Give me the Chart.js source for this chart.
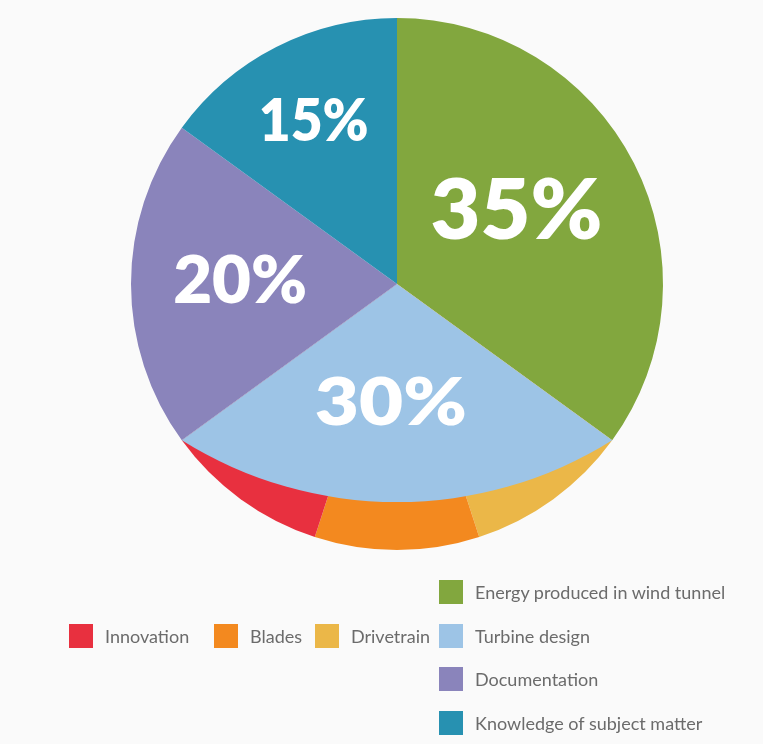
<!DOCTYPE html>
<html>
<head>
<meta charset="utf-8">
<script src="https://cdn.jsdelivr.net/npm/chart.js@4.4.0/dist/chart.umd.min.js"></script>
<style>
html,body{margin:0;padding:0;background:#fafafa;}
#wrap{position:relative;width:763px;height:744px;overflow:hidden;}
#c{position:absolute;left:0;top:0;}
.lg{position:absolute;display:flex;align-items:center;font-family:Lato,"Noto Sans",sans-serif;font-size:18px;color:#6b6b6b;white-space:nowrap;height:24px;}
.sw{width:24px;height:24px;margin-right:12px;flex:none;}
</style>
</head>
<body>
<div id="wrap"><canvas id="c" width="763" height="744"></canvas></div>
<script>
// ---- data ----
const mainLabels = ['Energy produced in wind tunnel', 'Turbine design', 'Documentation', 'Knowledge of subject matter'];
const mainValues = [35, 30, 20, 15];
const turbineIndex = 1;                       // main category split into sub parts
const subLabels = ['Drivetrain', 'Blades', 'Innovation'];   // clockwise order
const subValues = [10, 10, 10];

// ---- styles ----
const mainColors = ['#82a73e', '#9dc4e6', '#8a84bb', '#2791b1'];
const subColors = ['#ebb748', '#f3891f', '#e8303f'];
const lensDepth = 0.82;
const labelStyle = [
  {size: 84, w: 172, r: 0.53, da: -5},
  {size: 67, w: 152, r: 0.44, da: 3},
  {size: 66, w: 134, r: 0.59, da: 1.8},
  {size: 58, w: 110, r: 0.69, da: 0}
];

// build pie slices (turbine design replaced by its parts)
const pieValues = [], pieColors = [], ranges = [];
mainLabels.forEach((l, i) => {
  if (i === turbineIndex) {
    ranges.push([pieValues.length, pieValues.length + subValues.length - 1]);
    subValues.forEach((v, j) => { pieValues.push(v); pieColors.push(subColors[j]); });
  } else {
    ranges.push([pieValues.length, pieValues.length]);
    pieValues.push(mainValues[i]); pieColors.push(mainColors[i]);
  }
});

const lensPlugin = {
  id: 'lens',
  afterDatasetsDraw(chart) {
    const ctx = chart.ctx;
    const arcs = chart.getDatasetMeta(0).data;
    const [s, e] = ranges[turbineIndex];
    const first = arcs[s], last = arcs[e];
    const O = {x: first.x, y: first.y};
    const R = first.outerRadius;
    const a1 = first.startAngle, a2 = last.endAngle;
    const m = (a1 + a2) / 2, d = (a2 - a1) / 2, k = lensDepth;
    const t = R * (1 - k * k) / (2 * (Math.cos(d) - k));
    const cx = O.x + t * Math.cos(m), cy = O.y + t * Math.sin(m);
    const r = k * R - t;
    const p1 = {x: O.x + R * Math.cos(a1), y: O.y + R * Math.sin(a1)};
    const p2 = {x: O.x + R * Math.cos(a2), y: O.y + R * Math.sin(a2)};
    const b1 = Math.atan2(p1.y - cy, p1.x - cx), b2 = Math.atan2(p2.y - cy, p2.x - cx);
    ctx.save();
    ctx.beginPath();
    ctx.moveTo(O.x, O.y);
    ctx.lineTo(p1.x, p1.y);
    ctx.arc(cx, cy, r, b1, b2, false);
    ctx.closePath();
    ctx.fillStyle = mainColors[turbineIndex];
    ctx.fill();

    // percentage labels
    ctx.fillStyle = '#ffffff';
    ctx.textAlign = 'center';
    ctx.textBaseline = 'alphabetic';
    mainValues.forEach((v, i) => {
      const st = labelStyle[i];
      const [rs, re] = ranges[i];
      const mid = (arcs[rs].startAngle + arcs[re].endAngle) / 2 + st.da * Math.PI / 180;
      const x = O.x + st.r * R * Math.cos(mid);
      const y = O.y + st.r * R * Math.sin(mid);
      const txt = v + '%';
      ctx.font = '800 ' + st.size + 'px Lato, "Noto Sans", sans-serif';
      const mw = ctx.measureText(txt).width;
      const sx = st.w / mw;
      ctx.save();
      ctx.translate(x, y + st.size * 0.716 / 2);
      ctx.scale(sx, 1);
      ctx.fillText(txt, 0, 0);
      ctx.restore();
    });
    ctx.restore();
  }
};

new Chart(document.getElementById('c'), {
  type: 'pie',
  data: {
    labels: pieValues.map((v, i) => i),
    datasets: [{data: pieValues, backgroundColor: pieColors, borderWidth: 0, hoverOffset: 0}]
  },
  options: {
    responsive: false,
    animation: false,
    events: [],
    layout: {padding: {left: 131, right: 100, top: 18, bottom: 194}},
    plugins: {legend: {display: false}, tooltip: {enabled: false}}
  },
  plugins: [lensPlugin]
});

// ---- legend (HTML) ----
const wrap = document.getElementById('wrap');
function addItem(label, color, x, yc) {
  const d = document.createElement('div');
  d.className = 'lg';
  d.style.left = x + 'px';
  d.style.top = (yc - 12) + 'px';
  d.innerHTML = '<div class="sw" style="background:' + color + '"></div><span>' + label + '</span>';
  wrap.appendChild(d);
}
const leftX = [69, 214, 315];
const subOrder = subLabels.map((l, i) => i).reverse();
subOrder.forEach((j, n) => addItem(subLabels[j], subColors[j], leftX[n], 636));
mainLabels.forEach((l, i) => addItem(l, mainColors[i], 439, 592 + i * 43.7));
</script>
</body>
</html>
